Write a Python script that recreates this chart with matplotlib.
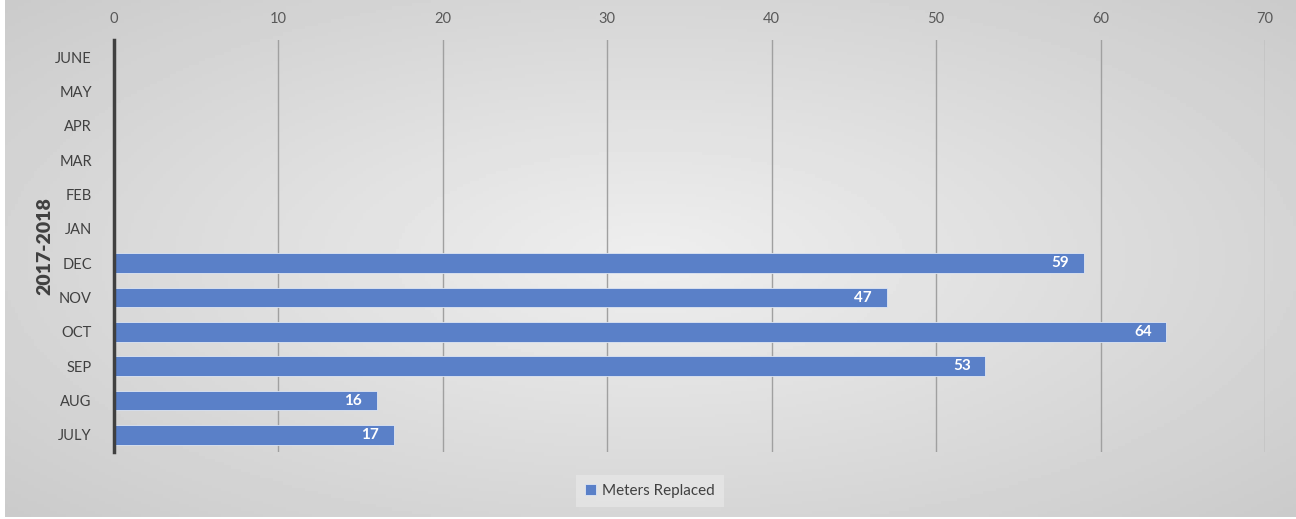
import numpy as np
import matplotlib.pyplot as plt

# data
months = ['JULY', 'AUG', 'SEP', 'OCT', 'NOV', 'DEC', 'JAN', 'FEB', 'MAR', 'APR', 'MAY', 'JUNE']
meters = [17, 16, 53, 64, 47, 59, 0, 0, 0, 0, 0, 0]
xticks = [0, 10, 20, 30, 40, 50, 60, 70]

plt.rcParams['font.family'] = ['Lato', 'DejaVu Sans']

fig = plt.figure(figsize=(12.96, 5.19), dpi=100)
fig.patch.set_facecolor('white')

# background gradient
bg = fig.add_axes([5 / 1296, 2 / 519, 1 - 5 / 1296, 1 - 2 / 519])
bg.set_zorder(-10)
gx, gy = np.meshgrid(np.linspace(-1, 1, 400), np.linspace(-1, 1, 160))
r = np.sqrt((gx * 0.95) ** 2 + (gy * 0.9) ** 2)
shade = 0.935 - 0.14 * np.clip(r / 1.3, 0, 1)
bg.imshow(shade, cmap='gray', vmin=0, vmax=1, aspect='auto', extent=[0, 1, 0, 1])
bg.axis('off')

ax = fig.add_axes([114 / 1296, 1 - 452 / 519, (1265 - 114) / 1296, (452 - 40) / 519])
ax.patch.set_alpha(0)

y = np.arange(len(months))
bars = ax.barh(y, meters, height=0.58, color='#5a80c8', edgecolor='#dfe6f2', linewidth=0.6,
               label='Meters Replaced', zorder=3)
for yi, v in zip(y, meters):
    if v > 0:
        ax.text(v - 0.9, yi, str(v), ha='right', va='center', color='white',
                fontsize=11, fontweight='bold', zorder=4)

ax.set_xlim(0, 70)
ax.set_ylim(-0.5, len(months) - 0.5)
ax.set_xticks(xticks)
ax.set_yticks(y)
ax.set_yticklabels(months)
ax.xaxis.tick_top()
ax.tick_params(axis='x', length=0, pad=10, labelsize=10.5, labelcolor='#595959')
ax.tick_params(axis='y', length=0, pad=16, labelsize=10.5, labelcolor='#404040')
ax.grid(axis='x', color='#a0a0a0', linewidth=1, zorder=0)
for s in ['top', 'right', 'bottom']:
    ax.spines[s].set_visible(False)
ax.spines['left'].set_color('#404040')
ax.spines['left'].set_linewidth(2.5)
ax.spines['left'].set_zorder(5)

ax.set_ylabel('2017-2018', fontsize=14, fontweight='heavy', color='#404040', labelpad=1)

leg = fig.legend(loc='center', bbox_to_anchor=(650 / 1296, 1 - 491 / 519), frameon=True,
                 fontsize=11, handlelength=0.7, handleheight=0.7, handletextpad=0.4,
                 borderpad=0.6, fancybox=False)
leg.get_frame().set_facecolor('#e6e6e6')
leg.get_frame().set_edgecolor('none')
for t in leg.get_texts():
    t.set_color('#404040')

fig.savefig('out.png', dpi=100)
